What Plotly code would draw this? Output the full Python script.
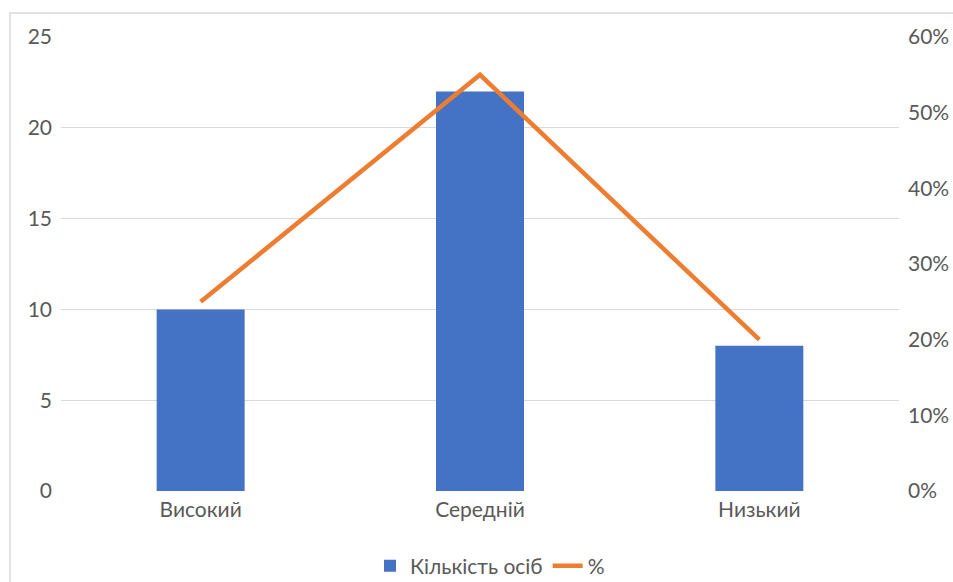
import plotly.graph_objects as go

categories = ["Високий", "Середній", "Низький"]
counts = [10, 22, 8]
percents = [0.25, 0.55, 0.20]
series_names = ["Кількість осіб", "%"]

W, H = 953, 582
L, R, T, B = 61, 54, 37, 91
pw, ph = W - L - R, H - T - B

def px_x(x):
    return (x - L) / pw

def px_y(y):
    return (H - B - y) / ph

font = dict(family="Lato, Carlito, sans-serif", size=21, color="#595959")

fig = go.Figure()
fig.add_trace(go.Bar(x=categories, y=counts, name=series_names[0],
                     marker=dict(color="#4472C4", line=dict(width=0))))
fig.add_trace(go.Scatter(x=categories, y=percents, name=series_names[1], yaxis="y2",
                         mode="lines", line=dict(color="#ED7D31", width=4.5)))

fig.update_layout(
    width=W, height=H,
    margin=dict(l=L, r=R, t=T, b=B, autoexpand=False),
    paper_bgcolor="white", plot_bgcolor="white",
    font=font,
    bargap=0.685,
    showlegend=True,
    legend=dict(orientation="h", x=px_x(490), xanchor="center", y=px_y(566), yanchor="middle",
                font=dict(size=21, color="#595959"), traceorder="normal"),
    xaxis=dict(showgrid=False, showline=False, zeroline=False, ticks="",
               ticklabelstandoff=4, tickfont=font),
    yaxis=dict(range=[0, 25], dtick=5, showgrid=True, gridcolor="#D9D9D9", gridwidth=1.3,
               zeroline=False, showline=False, ticks="", ticklabelstandoff=8, tickfont=font),
    yaxis2=dict(range=[0, 0.6], dtick=0.1, tickformat=".0%", overlaying="y", side="right",
                showgrid=False, zeroline=False, showline=False, ticks="",
                ticklabelstandoff=8, tickfont=font),
    shapes=[dict(type="rect", xref="paper", yref="paper",
                 x0=px_x(10), x1=px_x(965), y0=px_y(600), y1=px_y(13),
                 line=dict(color="#D9D9D9", width=1.5), layer="below")],
)

fig.write_html("out.html", config={"displayModeBar": False},
               post_script="document.body.style.margin='0';document.body.style.overflow='hidden';")
